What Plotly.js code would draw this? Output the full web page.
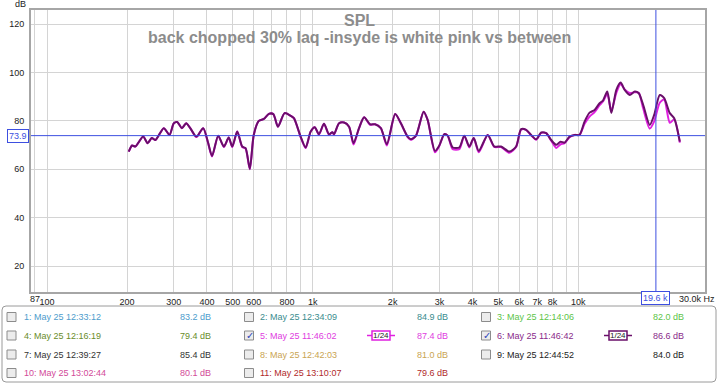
<!DOCTYPE html>
<html>
<head>
<meta charset="utf-8">
<script src="https://cdn.plot.ly/plotly-3.0.1.min.js"></script>
<style>
html,body{margin:0;padding:0;background:#fff;}
#chart{width:719px;height:384px;}
</style>
</head>
<body>
<div id="chart"></div>
<script>
// ---------- data ----------
const freqHz = [203,209,215,230,239,248,256,275,289,300,309,322,334,346,365,387,403,418,441,463,483,498,520,543,559,580,600,627,655,684,711,740,784,826,850,901,941,983,1018,1056,1103,1152,1187,1203,1257,1313,1371,1425,1495,1562,1645,1718,1806,1902,2045,2148,2278,2343,2447,2617,2709,2887,2997,3130,3223,3367,3565,3723,3889,4040,4220,4561,4832,5120,5506,5834,6093,6364,6645,6941,7250,7571,7908,8260,8576,8879,9273,9683,10110,10560,11030,11520,12030,12390,12860,13320,13910,14440,14950,15620,16320,16890,17550,18580,19310,20270,21060,22110,22970,24120];

// 6: May 25 11:46:42 (dark purple)
const spl6 = [67.3,69.8,69.4,73.5,70.8,72.9,72.1,77.0,74.2,79.0,79.5,77.0,79.0,77.0,73.5,77.0,71.4,65.5,73.9,69.4,73.1,69.4,75.6,69.4,68.7,60.2,74.2,80.0,80.8,82.9,82.8,77.6,83.2,82.1,81.1,73.5,69.0,75.6,77.4,74.5,78.8,74.5,75.3,74.5,79.0,79.3,77.6,70.8,77.0,81.5,78.6,78.6,77.0,70.4,82.8,79.0,73.5,72.4,73.8,83.8,80.4,67.6,69.8,74.5,73.9,69.0,69.0,73.9,69.4,72.9,67.6,74.2,69.4,69.4,67.3,69.4,76.6,76.3,74.2,72.4,75.2,74.9,72.1,70.1,71.4,71.0,73.5,74.2,74.2,79.7,83.4,84.5,87.3,88.4,92.1,83.2,92.8,95.8,92.8,90.7,92.1,91.4,86.6,78.3,82.5,90.7,89.4,83.2,81.1,71.4];

// 5: May 25 11:46:02 (magenta)
const spl5 = [67.3,69.8,69.4,73.5,70.8,72.9,72.1,77.0,74.2,79.0,79.5,77.0,79.0,77.0,73.3,77.0,71.2,65.3,73.9,69.2,73.1,69.2,75.6,69.2,68.5,60.0,74.2,80.0,80.8,82.9,82.8,77.6,83.2,82.1,81.1,73.3,68.8,75.6,77.4,74.3,78.8,74.3,75.3,74.3,79.0,79.3,77.6,70.2,77.0,81.5,78.4,78.6,77.0,69.8,82.8,79.0,73.3,72.2,73.8,83.8,80.4,67.0,69.6,74.5,73.9,68.3,68.3,73.9,69.0,72.9,67.0,74.2,69.2,69.2,66.8,69.2,76.4,76.3,74.0,72.2,75.0,74.9,71.8,68.8,70.3,70.8,73.3,74.2,74.2,78.8,81.8,83.6,86.5,88.0,91.0,84.2,91.6,95.2,93.0,91.5,91.8,91.6,85.2,76.8,79.8,87.5,88.8,79.2,80.6,71.0];

// axis ticks
const xTickVals = [100,200,300,400,500,600,800,1000,2000,3000,4000,5000,6000,7000,8000,10000];
const xTickText = ['100','200','300','400','500','600','800','1k','2k','3k','4k','5k','6k','7k','8k','10k'];
const xMinorGrid = [90,700,900,9000];
const yTickVals = [20,40,60,80,100,120];

// cursors
const cursorDb = 73.9;
const cursorHz = 19600;

// legend panel
const legendLabels = ['1: May 25 12:33:12','2: May 25 12:34:09','3: May 25 12:14:06',
                      '4: May 25 12:16:19','5: May 25 11:46:02','6: May 25 11:46:42',
                      '7: May 25 12:39:27','8: May 25 12:42:03','9: May 25 12:44:52',
                      '10: May 25 13:02:44','11: May 25 13:10:07'];
const legendValues = ['83.2 dB','84.9 dB','82.0 dB','79.4 dB','87.4 dB','86.6 dB','85.4 dB','81.0 dB','84.0 dB','80.1 dB','79.6 dB'];
const legendColors = ['#4d9ccc','#3a8c8e','#5cc447','#6a8c2a','#e03ce0','#8a2a8a','#333333','#c9a452','#222222','#d24a98','#b02a2a'];
const legendChecked = [false,false,false,false,true,true,false,false,false,false,false];
const legendSmoothing = ['','','','','1/24','1/24','','','','',''];

// ---------- layout helpers ----------
const PL=31, PT=10, PW=674, PH=282, W=719, H=384;
const px = p => (p-PL)/PW;
const py = p => (PT+PH-p)/PH;
const FONT = '"Liberation Sans", Arial, sans-serif';

const traces = [
  {x: freqHz, y: spl5, type:'scatter', mode:'lines', line:{color:'#e020e0', width:2, shape:'spline', smoothing:0.7}, hoverinfo:'skip'},
  {x: freqHz, y: spl6, type:'scatter', mode:'lines', line:{color:'#6a0f6a', width:2, shape:'spline', smoothing:0.7}, hoverinfo:'skip'}
];

const shapes = [];
const annotations = [];

// cursor lines
shapes.push({type:'line', xref:'paper', yref:'y', x0:0, x1:1, y0:cursorDb, y1:cursorDb, line:{color:'#3d4fe0', width:1}});
shapes.push({type:'line', xref:'x', yref:'paper', x0:cursorHz, x1:cursorHz, y0:0, y1:1, line:{color:'#3d4fe0', width:1}});

// titles
annotations.push({xref:'paper', yref:'paper', x:px(359), y:py(20), text:'<b>SPL</b>', showarrow:false, font:{family:FONT, size:16, color:'#8c8c8c'}, xanchor:'center', yanchor:'middle'});
annotations.push({xref:'paper', yref:'paper', x:px(359), y:py(37.5), text:'<b>back chopped 30% laq -insyde is white pink vs between</b>', showarrow:false, font:{family:FONT, size:16, color:'#8c8c8c'}, xanchor:'center', yanchor:'middle'});

// axis extras
annotations.push({xref:'paper', yref:'paper', x:px(20), y:py(4), text:'dB', showarrow:false, font:{family:FONT, size:9, color:'#222'}, xanchor:'center', yanchor:'middle'});
annotations.push({xref:'paper', yref:'paper', x:px(35), y:py(299), text:'87', showarrow:false, font:{family:FONT, size:9, color:'#222'}, xanchor:'center', yanchor:'middle'});
annotations.push({xref:'paper', yref:'paper', x:px(697), y:py(299), text:'30.0k Hz', showarrow:false, font:{family:FONT, size:9, color:'#222'}, xanchor:'center', yanchor:'middle'});
annotations.push({xref:'paper', yref:'y', x:px(29), y:cursorDb, text:String(cursorDb), showarrow:false, font:{family:FONT, size:9, color:'#3d4fe0'}, xanchor:'right', yanchor:'middle', bgcolor:'#ffffff', bordercolor:'#3d4fe0', borderwidth:1, borderpad:1});
annotations.push({xref:'x', yref:'paper', x:Math.log10(cursorHz), y:py(298.5), text:(cursorHz/1000).toFixed(1)+' k', showarrow:false, font:{family:FONT, size:9, color:'#3d4fe0'}, xanchor:'center', yanchor:'middle', bgcolor:'#ffffff', bordercolor:'#3d4fe0', borderwidth:1, borderpad:1});

// legend panel box (rounded)
(function(){
  const x0=px(2), x1=px(716), y0=py(306), y1=py(382);
  const r=4, rx=r/PW, ry=r/PH;
  shapes.push({type:'path', xref:'paper', yref:'paper',
    path:`M ${x0+rx} ${y0} L ${x1-rx} ${y0} Q ${x1} ${y0} ${x1} ${y0-ry} L ${x1} ${y1+ry} Q ${x1} ${y1} ${x1-rx} ${y1} L ${x0+rx} ${y1} Q ${x0} ${y1} ${x0} ${y1+ry} L ${x0} ${y0-ry} Q ${x0} ${y0} ${x0+rx} ${y0} Z`,
    line:{color:'#9a9a9a', width:1}, fillcolor:'rgba(0,0,0,0)'});
})();

const rowY = [317, 335.5, 354.5, 373];
const colDefs = [
  {box:11.5, text:22, icon:null, val:213},
  {box:249, text:258, icon:381, val:450},
  {box:486, text:495, icon:618, val:686}
];
legendLabels.forEach((lab, i) => {
  const row = Math.floor(i/3), col = i%3;
  const c = colDefs[col], yy = rowY[row];
  // checkbox
  shapes.push({type:'rect', xref:'paper', yref:'paper', x0:px(c.box-4.5), x1:px(c.box+4.5), y0:py(yy-4.5), y1:py(yy+4.5),
    line:{color:'#8c8c8c', width:1}, fillcolor:'#ececec'});
  if (legendChecked[i]) {
    annotations.push({xref:'paper', yref:'paper', x:px(c.box+0.5), y:py(yy), text:'✓', showarrow:false,
      font:{family:'"DejaVu Sans", sans-serif', size:10, color:'#2f44b8'}, xanchor:'center', yanchor:'middle'});
  }
  annotations.push({xref:'paper', yref:'paper', x:px(c.text), y:py(yy), text:lab, showarrow:false,
    font:{family:FONT, size:9, color:legendColors[i]}, xanchor:'left', yanchor:'middle'});
  annotations.push({xref:'paper', yref:'paper', x:px(c.val), y:py(yy), text:legendValues[i], showarrow:false,
    font:{family:FONT, size:9, color:legendColors[i]}, xanchor:'right', yanchor:'middle'});
  if (legendSmoothing[i] && c.icon) {
    const ic = c.icon, col2 = i===4 ? '#e020e0' : '#6a0f6a';
    shapes.push({type:'line', xref:'paper', yref:'paper', x0:px(ic-14), x1:px(ic+14), y0:py(yy), y1:py(yy), line:{color:col2, width:1.5}});
    shapes.push({type:'rect', xref:'paper', yref:'paper', x0:px(ic-9), x1:px(ic+9), y0:py(yy-4.5), y1:py(yy+4.5), line:{color:col2, width:1.5}, fillcolor:'#ffffff'});
    annotations.push({xref:'paper', yref:'paper', x:px(ic), y:py(yy), text:legendSmoothing[i], showarrow:false,
      font:{family:FONT, size:8, color:'#222'}, xanchor:'center', yanchor:'middle'});
  }
});

const layout = {
  width:W, height:H,
  margin:{l:PL, r:W-PL-PW, t:PT, b:H-PT-PH, pad:0},
  paper_bgcolor:'#ffffff', plot_bgcolor:'#ffffff',
  showlegend:false,
  font:{family:FONT, size:9, color:'#222'},
  xaxis:{type:'log', range:[Math.log10(87), Math.log10(30000)], tickmode:'array', tickvals:xTickVals, ticktext:xTickText,
    showgrid:true, gridcolor:'#d4d4d4', gridwidth:1, ticks:'', tickfont:{family:FONT, size:9, color:'#222'},
    showline:true, mirror:true, linecolor:'#a6a6a6', linewidth:2, zeroline:false, ticklabelstandoff:0,
    minor:{tickmode:'array', tickvals:xMinorGrid, showgrid:true, gridcolor:'#d4d4d4', gridwidth:1, ticks:''}},
  yaxis:{range:[9.3,125.8], tickmode:'array', tickvals:yTickVals, showgrid:true, gridcolor:'#d4d4d4', gridwidth:1,
    ticks:'', tickfont:{family:FONT, size:9, color:'#222'}, showline:true, mirror:true, linecolor:'#a6a6a6', linewidth:2,
    zeroline:false, ticklabelstandoff:3},
  shapes:shapes,
  annotations:annotations
};

Plotly.newPlot('chart', traces, layout, {staticPlot:true, displayModeBar:false});
</script>
</body>
</html>
